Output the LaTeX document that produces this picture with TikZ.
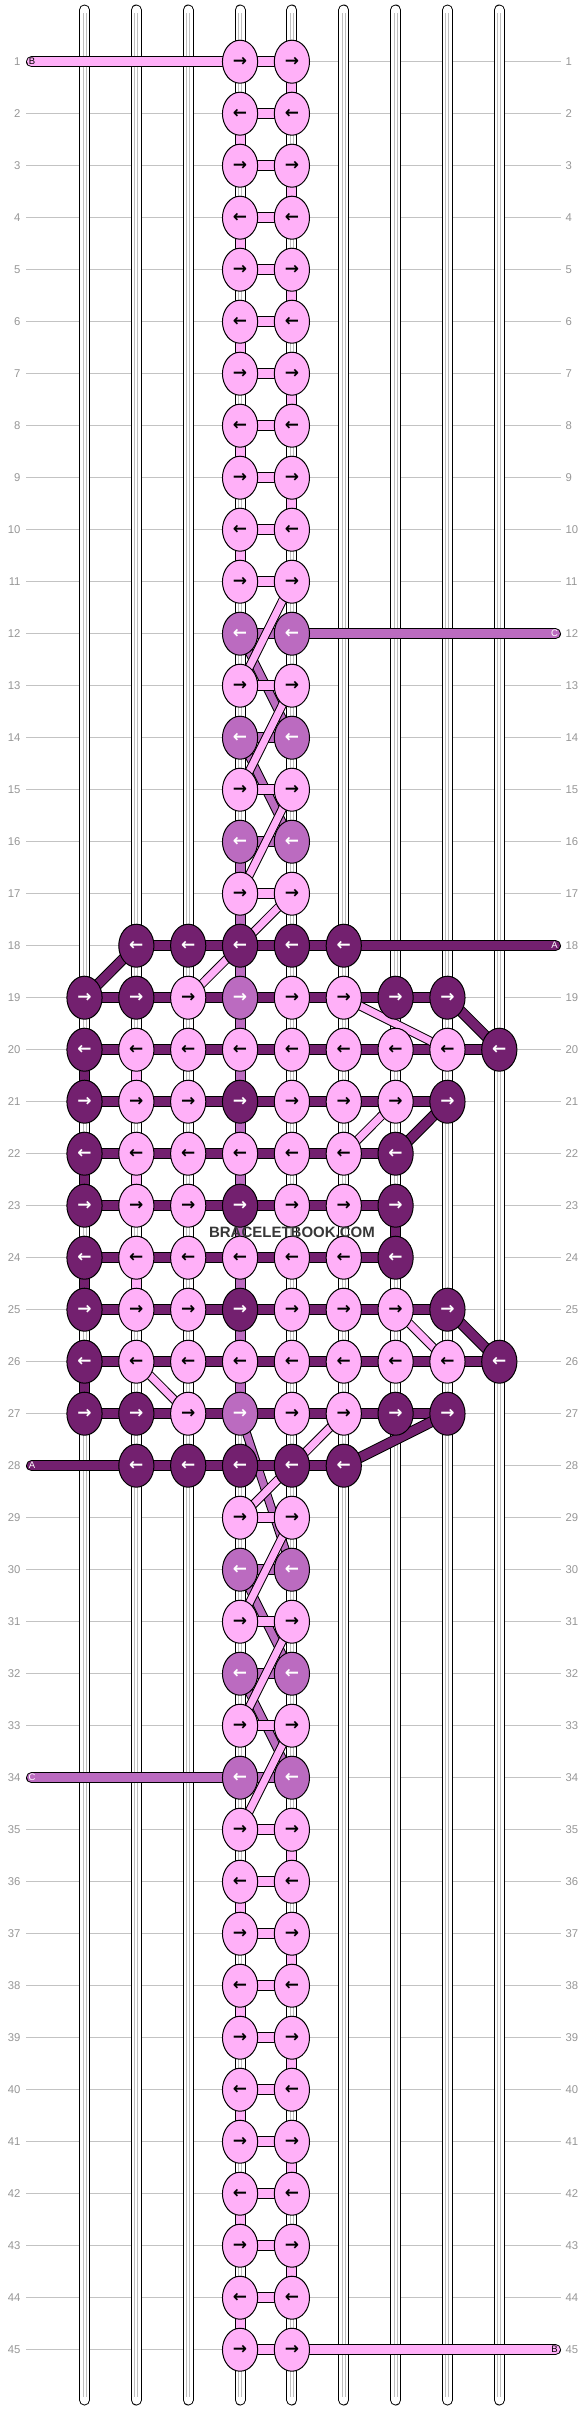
\documentclass[tikz,border=0pt]{standalone}
\usepackage{fontspec}
\setmainfont{Liberation Sans}
\newfontfamily\arrowfont{DejaVu Sans}
\usetikzlibrary{shapes.geometric}
\definecolor{pk}{RGB}{255,176,248}
\definecolor{md}{RGB}{187,107,192}
\definecolor{dk}{RGB}{115,32,111}
\definecolor{lblc}{RGB}{150,150,150}
\definecolor{gridc}{RGB}{195,195,195}
\definecolor{tubec}{RGB}{190,190,190}
\definecolor{wmc}{RGB}{55,55,55}
\pgfdeclarelayer{gridl}\pgfdeclarelayer{tubes}\pgfdeclarelayer{lowthr}\pgfdeclarelayer{midthr}\pgfdeclarelayer{highthr}\pgfdeclarelayer{toplayer}
\pgfsetlayers{gridl,tubes,lowthr,midthr,highthr,main,toplayer}
\tikzset{
 knot/.style={ellipse,draw=black,line width=1pt,minimum width=35.2pt,minimum height=43pt,inner sep=0pt,
   font=\arrowfont\bfseries\fontsize{17}{17}\selectfont},
 kp/.style={knot,fill=pk,text=black},
 km/.style={knot,fill=md,text=white},
 kd/.style={knot,fill=dk,text=white},
 lbl/.style={text=lblc,inner sep=0pt,font=\fontsize{11.3}{12}\selectfont},
 endl/.style={inner sep=0pt,font=\fontsize{9.5}{10}\selectfont},
}
\newcommand\knotat[4]{% row, col, style, dir
 \pgfmathsetmacro\kx{84.5+51.85*#2}\pgfmathsetmacro\ky{61.7+52*(#1-1)}%
 \node[#3] (k-#1-#2) at (\kx,\ky) {\if#4R→\else←\fi};}
\newcommand\krow[4]{% row, dir, start col, list
 \foreach \s [count=\i from #3] in {#4} {\knotat{#1}{\i}{k\s}{#2}}}
\newcommand\thr[5]{% layer, colour, width, from, to
 \begin{pgfonlayer}{#1}
 \draw[black,line width=#3pt] (#4.center) -- (#5.center);
 \draw[#2,line width=#3pt-2pt] (#4.center) -- (#5.center);
 \end{pgfonlayer}}
\newcommand\hb[4]{% row, from col, to col, colour
 \pgfmathtruncatemacro\hbe{#3-1}%
 \foreach \c in {#2,...,\hbe}{\pgfmathtruncatemacro\cn{\c+1}\thr{midthr}{#4}{11}{k-#1-\c}{k-#1-\cn}}}
\newcommand\vb[3]{% row, col, colour
 \pgfmathtruncatemacro\rn{#1+1}\thr{midthr}{#3}{11}{k-#1-#2}{k-\rn-#2}}
\newcommand\dg[7]{\thr{#1}{#2}{#3}{k-#4-#5}{k-#6-#7}}
\newcommand\tailbar[5]{% name, x, row, colour, knot
 \pgfmathsetmacro\ey{61.7+52*(#3-1)}%
 \coordinate (#1) at (#2,\ey);
 \begin{pgfonlayer}{midthr}
 \draw[black,line width=11pt,line cap=round] (#1) -- (#5.center);
 \draw[#4,line width=9pt,line cap=round] (#1) -- (#5.center);
 \end{pgfonlayer}}
\begin{document}
\begin{tikzpicture}[x=1pt,y=-1pt]
\useasboundingbox (0,0) rectangle (584,2412);
% grid and labels
\begin{pgfonlayer}{gridl}
\foreach \r in {1,...,45}{
 \pgfmathsetmacro\yy{61.7+52*(\r-1)}
 \draw[gridc,line width=1pt] (26,\yy) -- (561,\yy);
 \node[lbl,anchor=east] (ll-\r) at (20.7,\yy) {\r};
 \node[lbl,anchor=west] (rl-\r) at (565.5,\yy) {\r};
}
\end{pgfonlayer}
% strings
\begin{pgfonlayer}{tubes}
\foreach \c in {0,...,8}{
 \pgfmathsetmacro\xx{84.5+51.85*\c}
 \draw[black,line width=11pt,line cap=round] (\xx,10) -- (\xx,2400);
 \draw[white,line width=9pt,line cap=round] (\xx,10) -- (\xx,2400);
 \draw[tubec,line width=4pt] (\xx,13) -- (\xx,2397);
 \draw[white,line width=2pt] (\xx,13) -- (\xx,2397);
}
\end{pgfonlayer}
% knots
\foreach \r in {1,...,11,35,36,...,45}{\ifodd\r\relax \krow{\r}{R}{3}{p,p}\else \krow{\r}{L}{3}{p,p}\fi}
\foreach \r in {13,15,17,29,31,33}{\krow{\r}{R}{3}{p,p}}
\foreach \r in {12,14,16,30,32,34}{\krow{\r}{L}{3}{m,m}}
\krow{18}{L}{1}{d,d,d,d,d}
\krow{19}{R}{0}{d,d,p,m,p,p,d,d}
\krow{20}{L}{0}{d,p,p,p,p,p,p,p,d}
\krow{21}{R}{0}{d,p,p,d,p,p,p,d}
\krow{22}{L}{0}{d,p,p,p,p,p,d}
\krow{23}{R}{0}{d,p,p,d,p,p,d}
\krow{24}{L}{0}{d,p,p,p,p,p,d}
\krow{25}{R}{0}{d,p,p,d,p,p,p,d}
\krow{26}{L}{0}{d,p,p,p,p,p,p,p,d}
\krow{27}{R}{0}{d,d,p,m,p,p,d,d}
\krow{28}{L}{1}{d,d,d,d,d}
% horizontal bars
\foreach \r in {1,...,11,13,15,17,29,31,33,35,36,...,45}{\hb{\r}{3}{4}{pk}}
\foreach \r in {12,14,16,30,32,34}{\hb{\r}{3}{4}{md}}
\hb{18}{1}{5}{dk}
\hb{19}{0}{7}{dk}
\hb{20}{0}{8}{dk}
\hb{21}{0}{7}{dk}
\hb{22}{0}{6}{dk}
\hb{23}{0}{6}{dk}
\hb{24}{0}{6}{dk}
\hb{25}{0}{7}{dk}
\hb{26}{0}{8}{dk}
\hb{27}{0}{7}{dk}
\hb{28}{1}{5}{dk}
% vertical segments
\foreach \r in {1,...,10,35,36,...,44}{\ifodd\r\relax \vb{\r}{4}{pk}\else \vb{\r}{3}{pk}\fi}
\foreach \r in {16,...,26}{\vb{\r}{3}{md}}
\vb{20}{0}{dk}\vb{22}{0}{dk}\vb{23}{6}{dk}\vb{24}{0}{dk}\vb{26}{0}{dk}
\vb{20}{1}{pk}\vb{22}{1}{pk}\vb{24}{1}{pk}
% diagonals
\dg{highthr}{pk}{9}{11}{4}{13}{3}
\dg{highthr}{pk}{9}{13}{4}{15}{3}
\dg{highthr}{pk}{9}{15}{4}{17}{3}
\dg{highthr}{pk}{9}{17}{4}{19}{2}
\dg{highthr}{pk}{9}{19}{5}{20}{7}
\dg{highthr}{pk}{9}{21}{6}{22}{5}
\dg{highthr}{pk}{9}{25}{6}{26}{7}
\dg{highthr}{pk}{9}{26}{1}{27}{2}
\dg{highthr}{pk}{9}{27}{5}{29}{3}
\dg{highthr}{pk}{9}{29}{4}{31}{3}
\dg{highthr}{pk}{9}{31}{4}{33}{3}
\dg{highthr}{pk}{9}{33}{4}{35}{3}
\dg{lowthr}{md}{9}{12}{3}{14}{4}
\dg{lowthr}{md}{9}{14}{3}{16}{4}
\dg{lowthr}{md}{9}{27}{3}{30}{4}
\dg{lowthr}{md}{9}{30}{3}{32}{4}
\dg{lowthr}{md}{9}{32}{3}{34}{4}
\dg{midthr}{dk}{11}{18}{1}{19}{0}
\dg{midthr}{dk}{11}{19}{7}{20}{8}
\dg{midthr}{dk}{11}{21}{7}{22}{6}
\dg{midthr}{dk}{11}{25}{7}{26}{8}
\dg{midthr}{dk}{11}{27}{7}{28}{5}
% end bars with letters
\tailbar{eB1}{31.5}{1}{pk}{k-1-3}
\tailbar{eC12}{555.5}{12}{md}{k-12-4}
\tailbar{eA18}{555.5}{18}{dk}{k-18-5}
\tailbar{eA28}{31.5}{28}{dk}{k-28-1}
\tailbar{eC34}{31.5}{34}{md}{k-34-3}
\tailbar{eB45}{555.5}{45}{pk}{k-45-4}
\node[endl,text=black] (tB1) at ([xshift=0.5pt]eB1) {B};
\node[endl,text=white] (tC12) at ([xshift=-1pt]eC12) {C};
\node[endl,text=white] (tA18) at ([xshift=-1pt]eA18) {A};
\node[endl,text=white] (tA28) at ([xshift=0.5pt]eA28) {A};
\node[endl,text=white] (tC34) at ([xshift=0.5pt]eC34) {C};
\node[endl,text=black] (tB45) at ([xshift=-1pt]eB45) {B};
% watermark
\begin{pgfonlayer}{toplayer}
\node[text=wmc,inner sep=0pt,font=\bfseries\fontsize{15}{15}\selectfont] (wm) at (292,1232) {BRACELETBOOK.COM};
\end{pgfonlayer}
\end{tikzpicture}
\end{document}
